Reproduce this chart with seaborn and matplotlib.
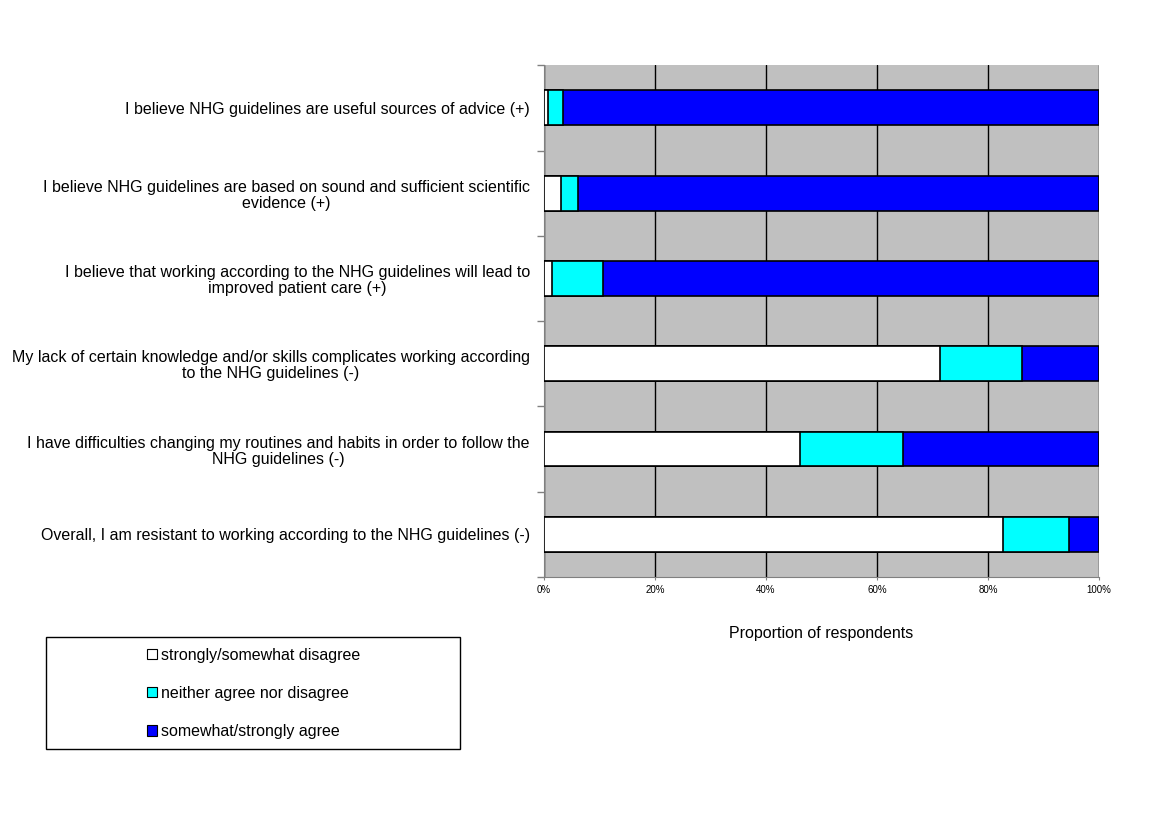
import numpy as np
import pandas as pd
import matplotlib
matplotlib.use("Agg")
import matplotlib.pyplot as plt
import seaborn as sns
from matplotlib.patches import Patch, Rectangle

statements = [
    "I believe NHG guidelines are useful sources of advice (+)",
    "I believe NHG guidelines are based on sound and sufficient scientific\nevidence (+)",
    "I believe that working according to the NHG guidelines will lead to\nimproved patient care (+)",
    "My lack of certain knowledge and/or skills complicates working according\nto the NHG guidelines (-)",
    "I have difficulties changing my routines and habits in order to follow the\nNHG guidelines (-)",
    "Overall, I am resistant to working according to the NHG guidelines (-)",
]
disagree = [0.7, 3.1, 1.5, 71.3, 46.1, 82.7]
neutral = [2.7, 3.0, 9.1, 14.8, 18.5, 11.8]
agree = [96.6, 93.9, 89.4, 13.9, 35.4, 5.5]
legend_labels = ["strongly/somewhat disagree", "neither agree nor disagree",
                 "somewhat/strongly agree"]
colors = ["#FFFFFF", "#00FFFF", "#0000FF"]

sns.set_style("white")
plt.rcParams["font.family"] = ["Liberation Sans", "DejaVu Sans"]
plt.rcParams["text.color"] = "black"
plt.rcParams["axes.labelcolor"] = "black"
plt.rcParams["xtick.labelcolor"] = "black"
plt.rcParams["ytick.labelcolor"] = "black"

df = pd.DataFrame({"statement": statements, "disagree": disagree,
                   "neutral": neutral, "agree": agree})
df["c1"] = df["disagree"]
df["c2"] = df["disagree"] + df["neutral"]
df["c3"] = df["c2"] + df["agree"]

fig = plt.figure(figsize=(11.57, 8.16), dpi=100)
ax = fig.add_axes([0.470, 0.293, 0.480, 0.627])
ax.set_facecolor("#C0C0C0")

# stacked bars: draw cumulative totals, largest first
for col, c in zip(["c3", "c2", "c1"], colors[::-1]):
    sns.barplot(data=df, x=col, y="statement", orient="h", color=c,
                edgecolor="black", linewidth=1.2, width=0.41, saturation=1,
                ax=ax, zorder=3)

ax.set_xlim(0, 100)
ax.set_ylim(5.5, -0.5)
ax.set_xticks([0, 20, 40, 60, 80, 100])
ax.set_xticklabels(["0%", "20%", "40%", "60%", "80%", "100%"], fontsize=7)
ax.xaxis.grid(True, color="black", linewidth=1.0, zorder=1)
ax.set_axisbelow(True)
ax.tick_params(axis="x", bottom=True, length=2, color="#808080", pad=4)
ax.tick_params(axis="y", which="major", left=False, length=0, pad=10, labelsize=11.5)
ax.set_yticks(np.arange(-0.5, 6.0, 1.0), minor=True)
ax.tick_params(axis="y", which="minor", left=True, length=5, width=1, color="#808080")
for lbl in ax.get_yticklabels():
    lbl.set_multialignment("center")
    lbl.set_linespacing(1.1)
ax.set_xlabel("Proportion of respondents", fontsize=11.5, labelpad=22)
ax.set_ylabel("")

for s in ["top", "right"]:
    ax.spines[s].set_visible(False)
ax.spines["left"].set_color("#808080")
ax.spines["bottom"].set_color("#808080")

# legend in a box at bottom left
fig.patches.append(Rectangle((0.040, 0.082), 0.358, 0.137, transform=fig.transFigure,
                             facecolor="white", edgecolor="black", linewidth=1.0))
handles = [Patch(facecolor=c, edgecolor="black", linewidth=0.8) for c in colors]
fig.legend(handles, legend_labels, loc="center", bbox_to_anchor=(0.219, 0.1505),
           frameon=False, fontsize=11.5, handlelength=0.65, handleheight=0.65,
           handletextpad=0.25, labelspacing=1.45)

fig.savefig("out.png", dpi=100)
